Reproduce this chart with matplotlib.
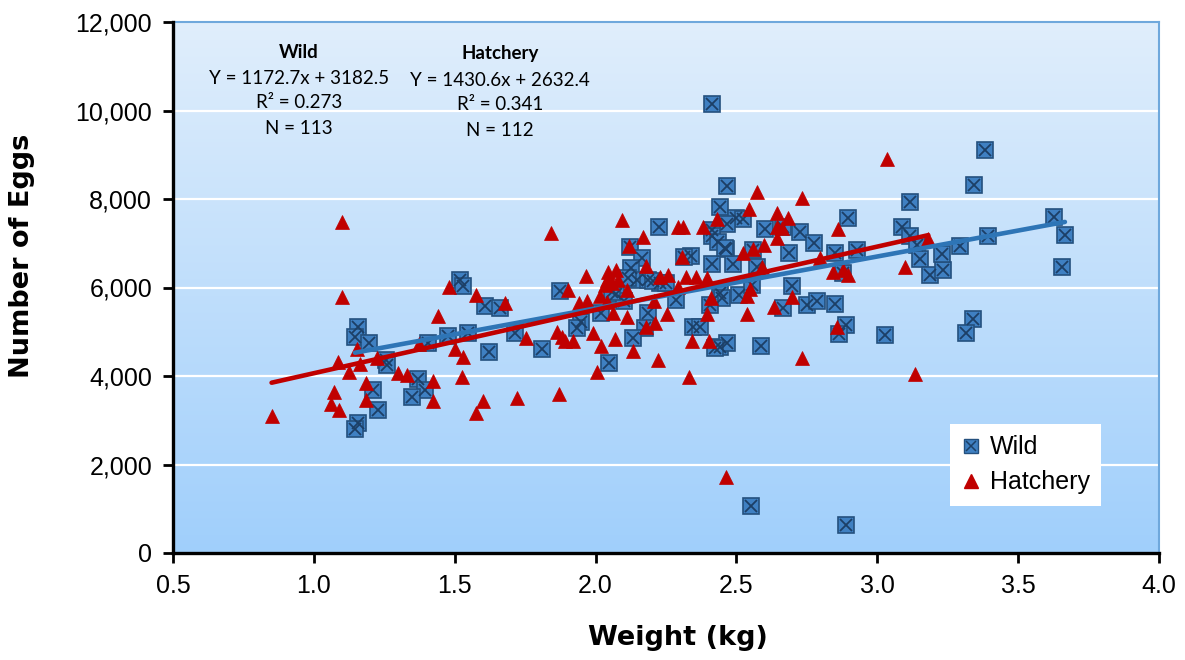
import numpy as np
import matplotlib
matplotlib.use("Agg")
import matplotlib.pyplot as plt
from matplotlib.lines import Line2D
from matplotlib.legend_handler import HandlerTuple
from matplotlib.ticker import FuncFormatter
from matplotlib.colors import LinearSegmentedColormap

# ---------------- data ----------------
wild_weight = [
    1.519, 1.530, 1.608, 1.662, 1.158, 1.146, 1.197, 1.256, 1.259, 1.371,
    1.395, 1.347, 1.209, 1.229, 1.158, 1.146, 1.406, 1.477, 1.546, 1.620,
    2.466, 2.440, 2.500, 2.524, 2.466, 2.412, 2.415, 2.436, 2.463, 2.226,
    2.122, 2.164, 2.126, 2.337, 2.314, 2.415, 2.489, 2.146, 2.116, 2.187,
    2.229, 2.205, 2.073, 1.874, 2.442, 2.448, 2.510, 2.285, 2.187, 1.948,
    1.933, 2.021, 2.176, 2.134, 2.347, 2.440, 2.466, 1.809, 2.049, 1.714,
    3.383, 3.343, 3.116, 3.087, 3.116, 3.140, 3.152, 3.187, 3.234, 3.229,
    3.294, 3.394, 2.897, 2.927, 2.850, 2.877, 2.601, 2.667, 2.726, 2.775,
    2.688, 2.572, 2.554, 2.696, 2.406, 2.667, 2.749, 2.787, 2.850, 2.888,
    2.865, 3.027, 3.339, 3.315, 2.424, 2.587, 2.413, 2.552, 2.889, 3.628,
    3.666, 3.655, 2.460, 2.560, 2.370, 2.100, 2.250, 2.060,
]
wild_eggs = [
    6170, 6034, 5582, 5530, 5114, 4888, 4753, 4362, 4249, 3925,
    3684, 3533, 3684, 3232, 2945, 2795, 4739, 4904, 4979, 4549,
    8294, 7812, 7563, 7541, 7435, 7299, 7164, 7035, 6863, 7374,
    6908, 6659, 6434, 6712, 6682, 6531, 6531, 6169, 6208, 6169,
    6095, 6154, 5853, 5928, 5882, 5755, 5831, 5718, 5416, 5227,
    5077, 5416, 5077, 4852, 5100, 4663, 4739, 4603, 4301, 4965,
    9107, 8316, 7939, 7374, 7164, 6960, 6637, 6282, 6395, 6757,
    6938, 7164, 7563, 6847, 6772, 6320, 7315, 7374, 7262, 7013,
    6772, 6471, 6056, 6034, 5605, 5530, 5605, 5702, 5627, 5153,
    4949, 4927, 5281, 4965, 4626, 4678, 10147, 1062, 633, 7586,
    7186, 6471, 6886, 6847, 5114, 5700, 6100, 5900,
]

hatch_weight = [
    1.101, 1.100, 0.850, 1.085, 1.073, 1.061, 1.090, 1.125, 1.152, 1.164,
    1.185, 1.185, 1.225, 1.300, 1.330, 1.374, 1.424, 1.424, 1.440, 1.480,
    1.500, 1.530, 1.525, 1.575, 1.600, 1.575, 1.842, 2.093, 2.170, 2.120,
    2.180, 2.294, 2.312, 2.380, 2.430, 2.543, 2.522, 2.306, 1.966, 2.045,
    2.071, 2.040, 2.034, 2.060, 2.080, 2.110, 2.016, 2.040, 1.903, 1.942,
    1.971, 2.230, 2.256, 2.320, 2.357, 2.395, 2.294, 2.207, 2.410, 2.063,
    2.110, 2.255, 2.395, 2.536, 2.538, 2.211, 2.180, 1.991, 1.864, 1.880,
    1.919, 1.891, 1.753, 2.020, 2.069, 2.132, 2.341, 2.404, 2.220, 2.004,
    2.332, 1.720, 1.870, 1.679, 3.033, 2.572, 2.732, 2.643, 2.684, 2.643,
    2.660, 2.643, 2.860, 3.181, 3.099, 2.599, 2.560, 2.796, 2.590, 2.844,
    2.880, 2.897, 2.548, 2.698, 2.633, 2.856, 2.732, 3.133, 2.463,
]
hatch_eggs = [
    7487, 5792, 3096, 4324, 3631, 3367, 3232, 4083, 4603, 4264,
    3834, 3458, 4414, 4075, 4023, 4723, 3887, 3442, 5356, 6004,
    4603, 4436, 3985, 5831, 3442, 3157, 7239, 7525, 7134, 6938,
    6486, 7360, 7374, 7374, 7540, 7767, 6787, 6682, 6260, 6358,
    6395, 6169, 6056, 6095, 6169, 5943, 5808, 5679, 5943, 5643,
    5702, 6245, 6282, 6245, 6230, 6208, 6018, 5702, 5755, 5416,
    5341, 5401, 5401, 5808, 5401, 5190, 5114, 4965, 5001, 4888,
    4798, 4798, 4852, 4678, 4829, 4572, 4798, 4798, 4362, 4098,
    3985, 3495, 3593, 5657, 8897, 8165, 8015, 7676, 7563, 7374,
    7337, 7111, 7315, 7089, 6471, 6960, 6863, 6659, 6456, 6358,
    6395, 6282, 5959, 5792, 5566, 5114, 4400, 4045, 1718,
]

series_names = ["Wild", "Hatchery"]
wild_fit = [1172.7, 3182.5]      # slope, intercept
hatch_fit = [1430.6, 2632.4]
wild_stats = ["Wild", "Y = 1172.7x + 3182.5", "R\u00b2 = 0.273", "N = 113"]
hatch_stats = ["Hatchery", "Y = 1430.6x + 2632.4", "R\u00b2 = 0.341", "N = 112"]

x_ticks = [0.5, 1.0, 1.5, 2.0, 2.5, 3.0, 3.5, 4.0]
y_ticks = [0, 2000, 4000, 6000, 8000, 10000, 12000]

# ---------------- figure ----------------
W, H = 1185, 660
fig = plt.figure(figsize=(W / 100, H / 100), dpi=100)
ax = fig.add_axes([173 / W, 1 - 553 / H, (1159 - 173) / W, (553 - 22) / H])

# background gradient
cmap = LinearSegmentedColormap.from_list("bg", ["#a0cffb", "#e0eefc"])
grad = np.linspace(0, 1, 256).reshape(-1, 1)
ax.imshow(grad, extent=[x_ticks[0], x_ticks[-1], y_ticks[0], y_ticks[-1]],
          origin="lower", aspect="auto", cmap=cmap, zorder=0, interpolation="bicubic")

# gridlines
for yv in y_ticks[1:-1]:
    ax.axhline(yv, color="white", lw=1.6, zorder=1)

ww = np.array(wild_weight)
we = np.array(wild_eggs)
hw = np.array(hatch_weight)
he = np.array(hatch_eggs)

sq_face = "#3f80c2"
sq_edge = "#24507e"
x_col = "#1c3f66"
tri_col = "#c00000"

# wild squares
ax.plot(ww, we, ls="none", marker="s", ms=12, mfc=sq_face, mec=sq_edge, mew=1.2, zorder=3)
ax.plot(ww, we, ls="none", marker="x", ms=9, mec=x_col, mew=1.3, zorder=3.1)
# hatchery triangles
ax.plot(hw, he, ls="none", marker="^", ms=10.5, mfc=tri_col, mec=tri_col, mew=0.5, zorder=4)

# trend lines
xw = np.array([ww.min(), ww.max()])
ax.plot(xw, np.polyval(wild_fit, xw), color="#2e75b6", lw=3.3, solid_capstyle="round", zorder=5)
xh = np.array([hw.min(), hw.max()])
ax.plot(xh, np.polyval(hatch_fit, xh), color="#c00000", lw=3.3, solid_capstyle="round", zorder=6)

ax.set_xlim(x_ticks[0], x_ticks[-1])
ax.set_ylim(y_ticks[0], y_ticks[-1])
ax.set_xticks(x_ticks)
ax.set_yticks(y_ticks)
ax.xaxis.set_major_formatter(FuncFormatter(lambda v, p: f"{v:.1f}"))
ax.yaxis.set_major_formatter(FuncFormatter(lambda v, p: f"{int(v):,}"))

for lab in ax.get_xticklabels() + ax.get_yticklabels():
    lab.set_fontfamily("Liberation Sans")
    lab.set_fontsize(18)
ax.tick_params(axis="both", direction="out", length=7, width=2, color="black")
ax.tick_params(axis="x", pad=8)
ax.tick_params(axis="y", pad=8)

for s in ["left", "bottom"]:
    ax.spines[s].set_color("black")
    ax.spines[s].set_linewidth(2.4)
    ax.spines[s].set_zorder(10)
for s in ["top", "right"]:
    ax.spines[s].set_color("#6fa8dc")
    ax.spines[s].set_linewidth(1.5)

ax.set_xlabel("Weight (kg)", fontfamily="DejaVu Sans", fontweight="bold", fontsize=19.5)
ax.set_ylabel("Number of Eggs", fontfamily="DejaVu Sans", fontweight="bold", fontsize=19.5)
ax.xaxis.set_label_coords((678 - 173) / 986, (553 - 638) / 531)
ax.yaxis.set_label_coords((22 - 173) / 986, (553 - 256) / 531)
ax.xaxis.label.set_va("center")
ax.yaxis.label.set_va("center")

# stats annotation (figure pixel positions)
def put(xpix, ypix, s, bold=False):
    fig.text(xpix / W, 1 - ypix / H, s, ha="center", va="center",
             fontfamily="Lato", fontsize=13.5, fontweight="bold" if bold else "normal",
             color="black", zorder=20)

ys_w = [52, 79, 103, 129]
ys_h = [54, 80, 104, 131]
for i, s in enumerate(wild_stats):
    put(299, ys_w[i], s, bold=(i == 0))
for i, s in enumerate(hatch_stats):
    put(500, ys_h[i], s, bold=(i == 0))

# legend
h_wild = (Line2D([], [], ls="none", marker="s", ms=9.5, mfc=sq_face, mec=sq_edge, mew=1.0),
          Line2D([], [], ls="none", marker="x", ms=7, mec=x_col, mew=1.1))
h_hatch = Line2D([], [], ls="none", marker="^", ms=10, mfc=tri_col, mec=tri_col)
leg = ax.legend([h_wild, h_hatch], series_names, loc="upper left",
                handler_map={tuple: HandlerTuple(ndivide=1, pad=0)},
                bbox_to_anchor=((950 - 173) / 986, (553 - 424) / 531),
                prop={"family": "Liberation Sans", "size": 18},
                frameon=True, fancybox=False, framealpha=1, facecolor="white",
                edgecolor="white", handlelength=0.8, handletextpad=0.35,
                borderpad=0.45, labelspacing=0.45, borderaxespad=0)
leg.get_frame().set_linewidth(0)
leg.set_zorder(30)

fig.savefig("out.png", dpi=100, facecolor="white")
